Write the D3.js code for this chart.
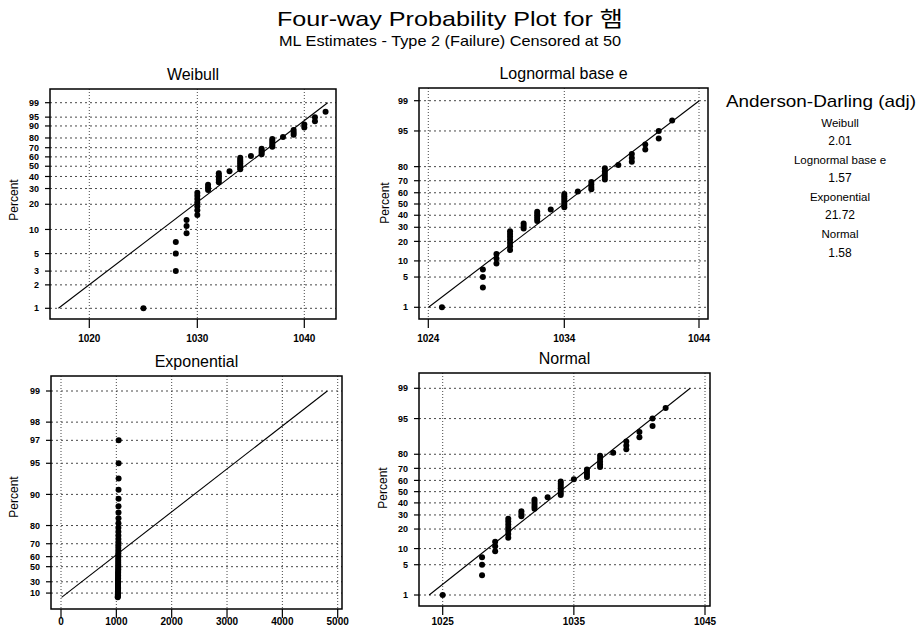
<!DOCTYPE html>
<html>
<head>
<meta charset="utf-8">
<script src="https://cdn.jsdelivr.net/npm/d3@7"></script>
<style>
    body { margin: 0; background: #fff; }
    text { font-family: "Liberation Sans", Arial, "Noto Sans CJK KR", sans-serif; fill: #000; }
</style>
</head>
<body>
<svg id="chart" width="921" height="626"></svg>
<script>
// failure times (one per plotted point) and their plotting percents
const failTimes = [1025,
    1028, 1028, 1028,
    1029, 1029, 1029,
    1030, 1030, 1030, 1030, 1030, 1030, 1030,
    1031, 1031, 1031,
    1032, 1032, 1032, 1032, 1032,
    1033,
    1034, 1034, 1034, 1034, 1034, 1034, 1034,
    1035,
    1036, 1036, 1036, 1036,
    1037, 1037, 1037, 1037, 1037,
    1038,
    1039, 1039, 1039,
    1040, 1040,
    1041, 1041,
    1042];
const plotPercents = [1, 3, 5, 7, 9, 11, 13, 15, 17, 19, 21, 23, 25, 27, 29, 31, 33, 35, 37, 39,
    41, 43, 45, 47, 49, 51, 53, 55, 57, 59, 61, 63, 65, 67, 69, 71, 73, 75, 77, 79,
    81, 83, 85, 87, 89, 91, 93, 95, 97];

// ML fits
const weibullFit = { shape: 252, scale: 1035.9 };
const lognormalFit = { loc: 6.94116, scale: 0.004158 };
const exponentialFit = { mean: 1045 };
const normalFit = { mean: 1033.92, sd: 4.278 };

// tick labels
const weibullYTicks = [1, 2, 3, 5, 10, 20, 30, 40, 50, 60, 70, 80, 90, 95, 99];
const normalYTicks = [1, 5, 10, 20, 30, 40, 50, 60, 70, 80, 95, 99];
const expYTicks = [10, 30, 50, 60, 70, 80, 90, 95, 97, 98, 99];
const weibullXTicks = [1020, 1030, 1040];
const lognormalXTicks = [1024, 1034, 1044];
const expXTicks = [0, 1000, 2000, 3000, 4000, 5000];
const normalXTicks = [1025, 1035, 1045];

// goodness of fit
const distNames = ['Weibull', 'Lognormal base e', 'Exponential', 'Normal'];
const adValues = ['2.01', '1.57', '21.72', '1.58'];

const title = 'Four-way Probability Plot for 햄';
const subtitle = 'ML Estimates - Type 2 (Failure) Censored at 50';

// inverse standard normal cdf (Acklam)
function qnorm(p) {
    const a = [-3.969683028665376e+01, 2.209460984245205e+02, -2.759285104469687e+02, 1.383577518672690e+02, -3.066479806614716e+01, 2.506628277459239e+00];
    const b = [-5.447609879822406e+01, 1.615858368580409e+02, -1.556989798598866e+02, 6.680131188771972e+01, -1.328068155288572e+01];
    const c = [-7.784894002430293e-03, -3.223964580411365e-01, -2.400758277161838e+00, -2.549732539343734e+00, 4.374664141464968e+00, 2.938163982698783e+00];
    const d = [7.784695709041462e-03, 3.224671290700398e-01, 2.445134137142996e+00, 3.754408661907416e+00];
    let q, r;
    if (p < 0.02425) {
        q = Math.sqrt(-2 * Math.log(p));
        return (((((c[0] * q + c[1]) * q + c[2]) * q + c[3]) * q + c[4]) * q + c[5]) / ((((d[0] * q + d[1]) * q + d[2]) * q + d[3]) * q + 1);
    }
    if (p <= 1 - 0.02425) {
        q = p - 0.5; r = q * q;
        return (((((a[0] * r + a[1]) * r + a[2]) * r + a[3]) * r + a[4]) * r + a[5]) * q / (((((b[0] * r + b[1]) * r + b[2]) * r + b[3]) * r + b[4]) * r + 1);
    }
    q = Math.sqrt(-2 * Math.log(1 - p));
    return -(((((c[0] * q + c[1]) * q + c[2]) * q + c[3]) * q + c[4]) * q + c[5]) / ((((d[0] * q + d[1]) * q + d[2]) * q + d[3]) * q + 1);
}

const weibT = p => Math.log(-Math.log(1 - p));
const expT = p => -Math.log(1 - p);

const panels = [
    {
        name: 'Weibull', box: [50, 89, 336, 319], percentX: 18, percentY: 200, labelY: 342,
        x: d3.scaleLog().domain([1020, 1040]).range([89.3, 304.3]), xTicks: weibullXTicks,
        yT: weibT, y: d3.scaleLinear().domain([weibT(0.01), weibT(0.99)]).range([308.3, 102.7]), yTicks: weibullYTicks,
        fit: p => weibullFit.scale * Math.pow(-Math.log(1 - p), 1 / weibullFit.shape)
    },
    {
        name: 'Lognormal base e', box: [419, 88, 708, 319], percentX: 389, percentY: 203, labelY: 342,
        x: d3.scaleLog().domain([1024, 1044]).range([428.3, 699]), xTicks: lognormalXTicks,
        yT: qnorm, y: d3.scaleLinear().domain([qnorm(0.01), qnorm(0.99)]).range([307.3, 100.7]), yTicks: normalYTicks,
        fit: p => Math.exp(lognormalFit.loc + lognormalFit.scale * qnorm(p))
    },
    {
        name: 'Exponential', box: [51, 376, 342, 609], percentX: 18, percentY: 497, labelY: 625,
        x: d3.scaleLinear().domain([0, 5000]).range([61, 337.7]), xTicks: expXTicks,
        yT: expT, y: d3.scaleLinear().domain([0, expT(0.99)]).range([597.8, 391]), yTicks: expYTicks,
        fit: p => exponentialFit.mean * expT(p)
    },
    {
        name: 'Normal', box: [419, 373, 710, 606], percentX: 387, percentY: 488, labelY: 625,
        x: d3.scaleLinear().domain([1025, 1045]).range([442.7, 705]), xTicks: normalXTicks,
        yT: qnorm, y: d3.scaleLinear().domain([qnorm(0.01), qnorm(0.99)]).range([595, 388.3]), yTicks: normalYTicks,
        fit: p => normalFit.mean + normalFit.sd * qnorm(p)
    }
];

const svg = d3.select('#chart');

svg.append('text').attr('x', 450).attr('y', 26).attr('text-anchor', 'middle')
    .attr('font-size', 21).attr('textLength', 346).attr('lengthAdjust', 'spacingAndGlyphs').text(title);
svg.append('text').attr('x', 450).attr('y', 46).attr('text-anchor', 'middle')
    .attr('font-size', 14.5).attr('textLength', 342).attr('lengthAdjust', 'spacingAndGlyphs').text(subtitle);

panels.forEach(function (pn) {
    const [x0, y0, x1, y1] = pn.box;
    const g = svg.append('g');
    const py = p => pn.y(pn.yT(p / 100));

    // grid
    pn.yTicks.forEach(function (t) {
        g.append('line').attr('x1', x0).attr('x2', x1).attr('y1', py(t)).attr('y2', py(t))
            .attr('stroke', '#333').attr('stroke-width', 0.9).attr('stroke-dasharray', '2,3');
    });
    pn.xTicks.forEach(function (t) {
        g.append('line').attr('x1', pn.x(t)).attr('x2', pn.x(t)).attr('y1', y0).attr('y2', y1)
            .attr('stroke', '#333').attr('stroke-width', 0.9).attr('stroke-dasharray', '1,2');
    });

    // frame
    g.append('rect').attr('x', x0).attr('y', y0).attr('width', x1 - x0).attr('height', y1 - y0)
        .attr('fill', 'none').attr('stroke', '#000').attr('stroke-width', 1.5);

    // y ticks + labels
    pn.yTicks.forEach(function (t) {
        g.append('line').attr('x1', x0 - 5).attr('x2', x0).attr('y1', py(t)).attr('y2', py(t))
            .attr('stroke', '#000').attr('stroke-width', 1.2);
        g.append('text').attr('x', x0 - 11).attr('y', py(t)).attr('dy', '0.35em')
            .attr('text-anchor', 'end').attr('font-size', 9).attr('font-weight', 'bold').text(t);
    });
    // x ticks + labels
    pn.xTicks.forEach(function (t) {
        g.append('line').attr('x1', pn.x(t)).attr('x2', pn.x(t)).attr('y1', y1).attr('y2', y1 + 9)
            .attr('stroke', '#000').attr('stroke-width', 1.2);
        g.append('text').attr('x', pn.x(t)).attr('y', pn.labelY)
            .attr('text-anchor', 'middle').attr('font-size', 10).attr('font-weight', 'bold').text(t);
    });

    // panel title + axis label
    g.append('text').attr('x', (x0 + x1) / 2).attr('y', y0 - 9).attr('text-anchor', 'middle')
        .attr('font-size', 16).text(pn.name);
    g.append('text').attr('transform', 'translate(' + pn.percentX + ',' + pn.percentY + ') rotate(-90)')
        .attr('text-anchor', 'middle').attr('font-size', 12).text('Percent');

    // fitted line
    const line = d3.line().x(p => pn.x(pn.fit(p))).y(p => pn.y(pn.yT(p)));
    g.append('path').datum([0.01, 0.99]).attr('d', line)
        .attr('fill', 'none').attr('stroke', '#000').attr('stroke-width', 1.1);

    // points
    g.selectAll('circle.pt').data(failTimes).enter().append('circle')
        .attr('class', 'pt')
        .attr('cx', d => pn.x(d))
        .attr('cy', (d, i) => py(plotPercents[i]))
        .attr('r', 3).attr('fill', '#000');
});

// Anderson-Darling table
svg.append('text').attr('x', 821).attr('y', 106.7).attr('text-anchor', 'middle')
    .attr('font-size', 17).attr('textLength', 190).attr('lengthAdjust', 'spacingAndGlyphs')
    .text('Anderson-Darling (adj)');
distNames.forEach(function (n, i) {
    svg.append('text').attr('x', 840).attr('y', 126.7 + i * 37.2).attr('text-anchor', 'middle')
        .attr('font-size', 11.5).text(n);
    svg.append('text').attr('x', 840).attr('y', 144.5 + i * 37.4).attr('text-anchor', 'middle')
        .attr('font-size', 12).text(adValues[i]);
});
</script>
</body>
</html>
